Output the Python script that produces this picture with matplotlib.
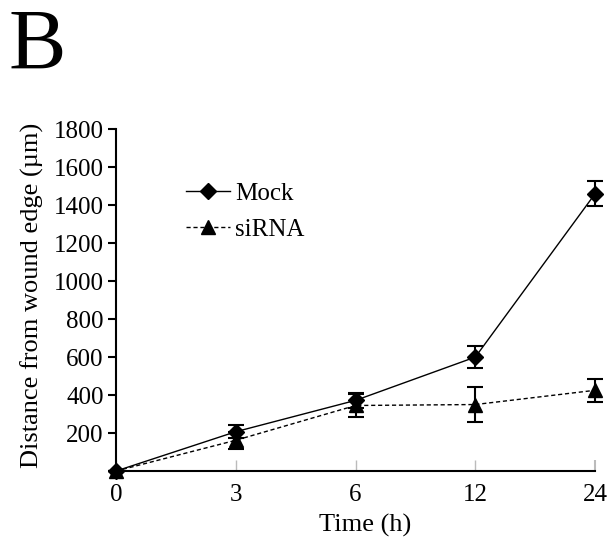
import matplotlib
matplotlib.use("Agg")
import matplotlib.pyplot as plt
from matplotlib.lines import Line2D

plt.rcParams['font.family'] = ['Liberation Serif', 'DejaVu Serif']

time_labels = ["0", "3", "6", "12", "24"]
mock = [0, 207, 372, 600, 1460]
mock_err = [0, 33, 40, 58, 65]
sirna = [0, 162, 345, 350, 425]
sirna_err = [0, 45, 58, 90, 60]

x = list(range(len(time_labels)))

fig = plt.figure(figsize=(6.11, 5.38), dpi=100)
ax = fig.add_axes([0.190, 0.1245, 0.784, 0.6355])

ax.errorbar(x, mock, yerr=mock_err, color='black', linestyle='-', linewidth=1,
            marker='D', markersize=8, capsize=6, elinewidth=1.5, capthick=1.5,
            clip_on=False, zorder=3)
ax.errorbar(x, sirna, yerr=sirna_err, color='black', linestyle=(0, (3, 2)), linewidth=1,
            marker='^', markersize=10, capsize=6, elinewidth=1.5, capthick=1.5,
            clip_on=False, zorder=3)

ax.set_xlim(0, 4)
ax.set_ylim(0, 1800)
ax.set_xticks(x)
ax.set_xticklabels(time_labels)
ax.set_yticks(range(200, 1801, 200))

ax.spines['top'].set_visible(False)
ax.spines['right'].set_visible(False)
ax.spines['left'].set_linewidth(1.5)
ax.spines['bottom'].set_linewidth(1.5)

ax.tick_params(axis='y', direction='out', length=6, width=1.5, labelsize=18, pad=3)
ax.tick_params(axis='x', direction='in', length=8, width=1, color='#bbbbbb',
               labelsize=18, pad=9)
last = ax.xaxis.get_major_ticks()[-1]
last.tick1line.set_color('black')
last.tick1line.set_markeredgewidth(1.5)

ax.set_xlabel('Time (h)', fontsize=19)
ax.xaxis.set_label_coords(0.52, -0.125)
ax.set_ylabel('Distance from wound edge (µm)', fontsize=19)
ax.yaxis.set_label_coords(-0.15, 0.515)

handles = [
    Line2D([], [], color='black', linestyle='-', linewidth=1, marker='D', markersize=8),
    Line2D([], [], color='black', linestyle=(0, (3, 2)), linewidth=1, marker='^', markersize=10),
]
ax.legend(handles, ['Mock', 'siRNA'], loc='upper left', bbox_to_anchor=(0.1, 0.91),
          frameon=False, fontsize=18, handlelength=1.75, handletextpad=0.2,
          labelspacing=0.55)

fig.text(0.014, 0.985, 'B', fontsize=62, va='top', ha='left')

fig.savefig('out.png', dpi=100)
